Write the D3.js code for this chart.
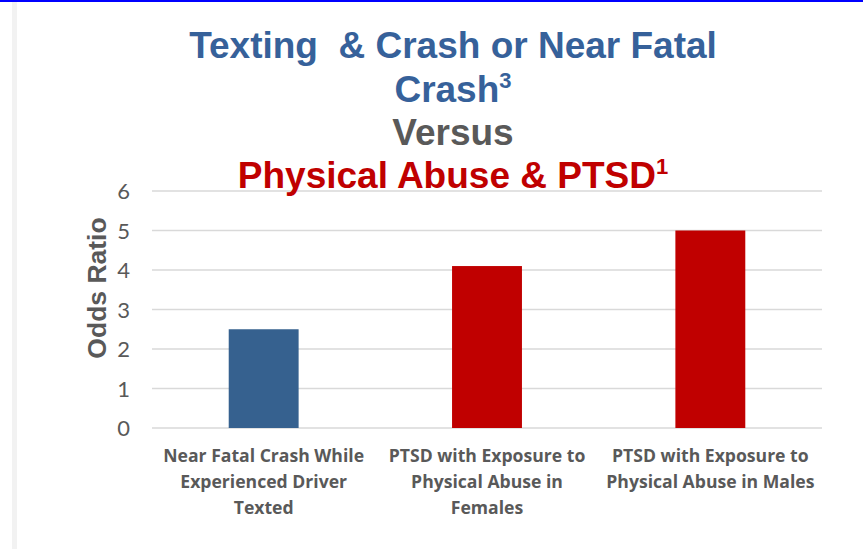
<!DOCTYPE html>
<html><head><meta charset="utf-8">
<script src="https://cdn.jsdelivr.net/npm/d3@7"></script>
<style>
html,body{margin:0;padding:0;background:#fff;}
svg{display:block;}
</style></head>
<body>
<script>
const categories = [
  "Near Fatal Crash While Experienced Driver Texted",
  "PTSD with Exposure to Physical Abuse in Females",
  "PTSD with Exposure to Physical Abuse in Males"
];
const values = [2.5, 4.1, 5.0];
const barColors = ["#36618F", "#C00000", "#C00000"];
const yTicks = [0, 1, 2, 3, 4, 5, 6];
const titleLines = [
  {text: "Texting  & Crash or Near Fatal", sup: "", color: "#36619A"},
  {text: "Crash", sup: "3", color: "#36619A"},
  {text: "Versus", sup: "", color: "#595959"},
  {text: "Physical Abuse & PTSD", sup: "1", color: "#C00000"}
];
const yLabel = "Odds Ratio";

const W = 863, H = 549;
const svg = d3.select("body").append("svg").attr("width", W).attr("height", H);

// frame decorations
svg.append("rect").attr("x", 0).attr("y", 0).attr("width", W).attr("height", 2).attr("fill", "#0000FF");
svg.append("rect").attr("x", 12).attr("y", 2).attr("width", 5).attr("height", H - 2).attr("fill", "#F2F2F2");

const pLeft = 152, pRight = 822, pTop = 191, pBottom = 428;

const x = d3.scaleBand().domain(categories).range([pLeft, pRight]).paddingInner(0.687).paddingOuter(0.687 / 2);
const y = d3.scaleLinear().domain([0, 6]).range([pBottom, pTop]);

// gridlines
svg.append("g").selectAll("line").data(yTicks).join("line")
  .attr("x1", pLeft).attr("x2", pRight)
  .attr("y1", d => y(d)).attr("y2", d => y(d))
  .attr("stroke", "#D9D9D9").attr("stroke-width", 1.5);

// y axis
const yAxis = d3.axisLeft(y).tickValues(yTicks).tickSize(0).tickPadding(22).tickFormat(d3.format("d"));
const gy = svg.append("g").attr("transform", `translate(${pLeft},0)`).call(yAxis);
gy.select(".domain").remove();
gy.selectAll("text").attr("fill", "#595959").style("font-family", "Lato, 'Open Sans', sans-serif").style("font-size", "22px").attr("dy", "0.36em");

// bars
svg.append("g").selectAll("rect").data(categories).join("rect")
  .attr("x", d => x(d)).attr("width", x.bandwidth())
  .attr("y", (d, i) => y(values[i])).attr("height", (d, i) => y(0) - y(values[i]))
  .attr("fill", (d, i) => barColors[i]);

// x axis labels (wrapped)
const xAxis = d3.axisBottom(x).tickSize(0).tickPadding(0);
const gx = svg.append("g").attr("transform", `translate(0,${pBottom})`).call(xAxis);
gx.select(".domain").remove();
gx.selectAll("text").each(function(d) {
  const t = d3.select(this);
  t.text(null).attr("y", 0).attr("dy", null)
   .attr("fill", "#595959")
   .style("font-family", "'Open Sans', Lato, sans-serif")
   .style("font-size", "17.6px").style("font-weight", "bold");
  const words = d.split(" ");
  let lines = [], cur = [];
  let tsp = t.append("tspan");
  words.forEach(w => {
    cur.push(w);
    tsp.text(cur.join(" "));
    if (tsp.node().getComputedTextLength() > 216 && cur.length > 1) {
      cur.pop();
      lines.push(cur.join(" "));
      cur = [w];
    }
  });
  lines.push(cur.join(" "));
  t.text(null);
  lines.forEach((ln, i) => {
    t.append("tspan").attr("x", 0).attr("y", 34 + i * 26).text(ln);
  });
});

// y axis title
svg.append("text")
  .attr("transform", `translate(106,288) rotate(-90)`)
  .attr("text-anchor", "middle")
  .attr("fill", "#595959")
  .style("font-family", "'Liberation Sans', Arial, sans-serif")
  .style("font-size", "26.5px").style("font-weight", "bold")
  .text(yLabel);

// title
const baselines = [58, 102, 145, 188];
titleLines.forEach((l, i) => {
  const t = svg.append("text")
    .attr("x", 453).attr("y", baselines[i])
    .attr("text-anchor", "middle")
    .attr("fill", l.color)
    .style("font-family", "'Liberation Sans', Arial, sans-serif")
    .style("font-size", "37px").style("font-weight", "bold")
    .style("white-space", "pre");
  t.append("tspan").text(l.text);
  if (l.sup) t.append("tspan").attr("dy", -14).style("font-size", "22px").text(l.sup);
});
</script>
</body></html>
